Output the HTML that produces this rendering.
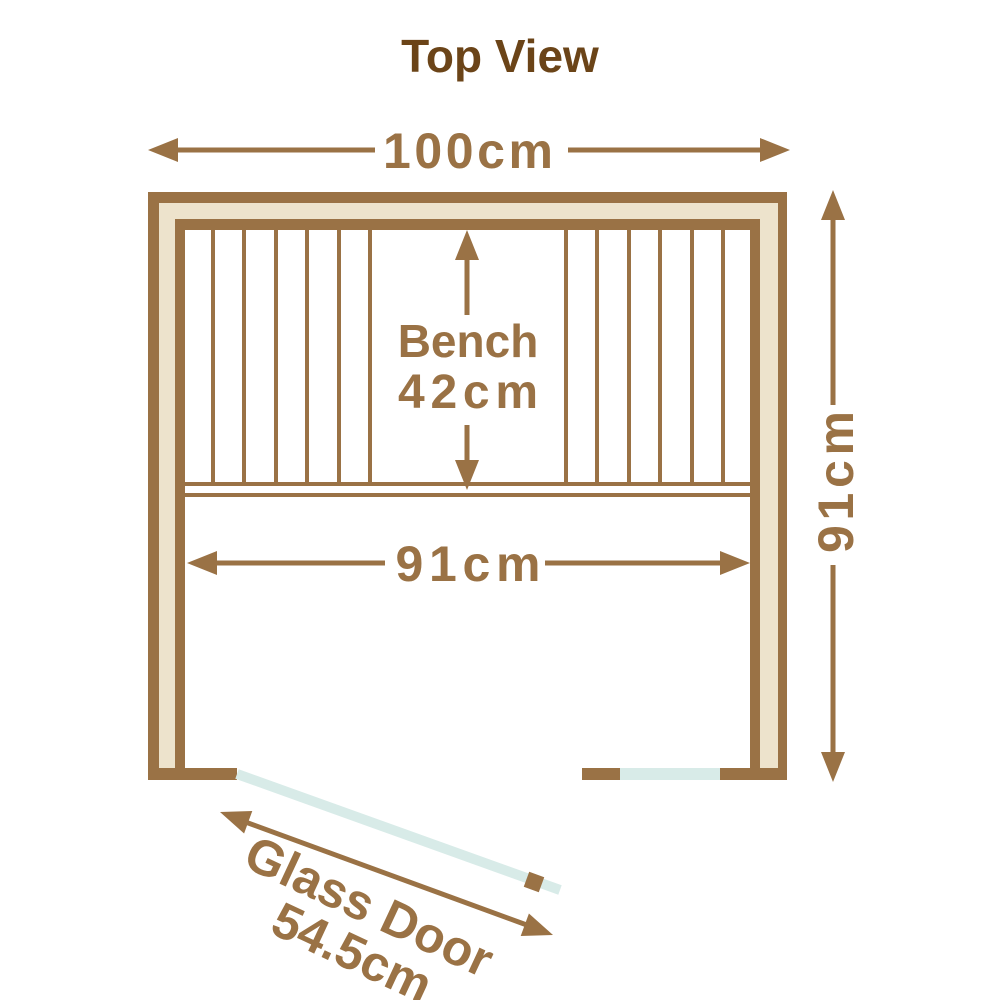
<!DOCTYPE html>
<html><head><meta charset="utf-8"><style>html,body{margin:0;padding:0;background:#fff}svg{display:block}</style></head><body>
<svg width="1000" height="1000" viewBox="0 0 1000 1000" xmlns="http://www.w3.org/2000/svg">
<defs>
<g id="ah"><polygon points="0,0 30,-12 30,12" fill="#9a7245"/></g>
</defs>
<text x="500" y="72" text-anchor="middle" font-family="Liberation Sans, sans-serif" font-weight="bold" font-size="46" fill="#6b4418">Top View</text>
<path d="M148,780 V192 H787 V780 H778 V203 H159 V780 Z" fill="#9a7245"/>
<path d="M159,780 V203 H778 V780 H760 V219 H175 V780 Z" fill="#ede3cc"/>
<path d="M175,780 V219 H760 V780 H750 V230 H185 V780 Z" fill="#9a7245"/>
<rect x="148" y="768" width="89" height="12" fill="#9a7245"/>
<rect x="582" y="768" width="38" height="12" fill="#9a7245"/>
<rect x="620" y="768" width="100" height="12" fill="#d8ebe8"/>
<rect x="720" y="768" width="67" height="12" fill="#9a7245"/>
<g fill="#9a7245">
<rect x="211" y="230" width="4" height="253"/><rect x="242" y="230" width="4" height="253"/><rect x="274" y="230" width="4" height="253"/><rect x="305" y="230" width="4" height="253"/><rect x="337" y="230" width="4" height="253"/><rect x="368" y="230" width="4" height="253"/>
<rect x="564" y="230" width="4" height="253"/><rect x="595" y="230" width="4" height="253"/><rect x="627" y="230" width="4" height="253"/><rect x="658" y="230" width="4" height="253"/><rect x="690" y="230" width="4" height="253"/><rect x="721" y="230" width="4" height="253"/>
<rect x="185" y="482" width="565" height="4"/><rect x="185" y="493" width="565" height="4"/>
</g>
<line x1="237" y1="774" x2="560" y2="890" stroke="#d8ebe8" stroke-width="10"/>
<rect x="-8" y="-8" width="16" height="16" fill="#9a7245" transform="translate(534,882) rotate(20)"/>
<g stroke="#9a7245" stroke-width="5" fill="none">
<line x1="170" y1="150" x2="375" y2="150"/><line x1="568" y1="150" x2="765" y2="150"/>
<line x1="833" y1="215" x2="833" y2="405"/><line x1="833" y1="565" x2="833" y2="755"/>
<line x1="210" y1="563" x2="385" y2="563"/><line x1="545" y1="563" x2="728" y2="563"/>
<line x1="467" y1="255" x2="467" y2="315"/><line x1="467" y1="425" x2="467" y2="465"/>
<line x1="240" y1="820" x2="535" y2="928"/>
</g>
<use href="#ah" transform="translate(148,150)"/>
<use href="#ah" transform="translate(790,150) rotate(180)"/>
<use href="#ah" transform="translate(833,190) rotate(90)"/>
<use href="#ah" transform="translate(833,782) rotate(-90)"/>
<use href="#ah" transform="translate(187,563)"/>
<use href="#ah" transform="translate(750,563) rotate(180)"/>
<use href="#ah" transform="translate(467,230) rotate(90)"/>
<use href="#ah" transform="translate(467,490) rotate(-90)"/>
<use href="#ah" transform="translate(220,812) rotate(20)"/>
<use href="#ah" transform="translate(553,935) rotate(200)"/>
<g font-family="Liberation Sans, sans-serif" font-weight="bold" fill="#9a7245">
<text x="468" y="168" text-anchor="middle" font-size="50" textLength="170" lengthAdjust="spacing">100cm</text>
<text x="468" y="581" text-anchor="middle" font-size="50" textLength="145" lengthAdjust="spacing">91cm</text>
<text x="468" y="357" text-anchor="middle" font-size="46">Bench</text>
<text x="468" y="408" text-anchor="middle" font-size="48" textLength="140" lengthAdjust="spacing">42cm</text>
<text transform="translate(853,482) rotate(-90)" text-anchor="middle" font-size="50" textLength="142" lengthAdjust="spacing">91cm</text>
<text transform="translate(362,922) rotate(25)" text-anchor="middle" font-size="50">Glass Door</text>
<text transform="translate(345,968) rotate(25)" text-anchor="middle" font-size="50">54.5cm</text>
</g>
</svg>
</body></html>
